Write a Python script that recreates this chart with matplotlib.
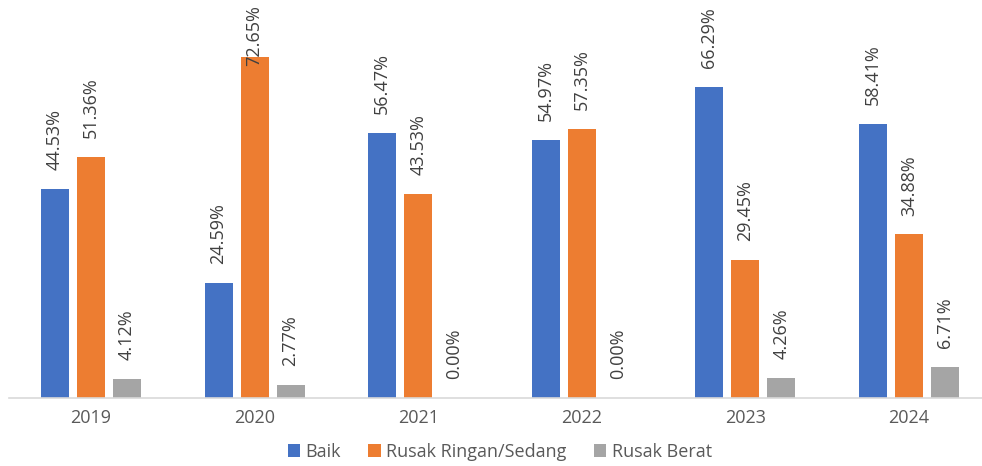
import matplotlib.pyplot as plt
import numpy as np

plt.rcParams['font.family'] = ['Open Sans', 'DejaVu Sans']

years = ["2019", "2020", "2021", "2022", "2023", "2024"]
baik = [44.53, 24.59, 56.47, 54.97, 66.29, 58.41]
ringan_sedang = [51.36, 72.65, 43.53, 57.35, 29.45, 34.88]
berat = [4.12, 2.77, 0.00, 0.00, 4.26, 6.71]

series = [
    ("Baik", baik, "#4472C4"),
    ("Rusak Ringan/Sedang", ringan_sedang, "#ED7D31"),
    ("Rusak Berat", berat, "#A5A5A5"),
]

fig = plt.figure(figsize=(9.82, 4.66), dpi=100)
ax = fig.add_axes([9.2 / 982, 68 / 466, 981.6 / 982, 375.5 / 466])

x = np.arange(len(years))
width = 0.171
step = 0.22

labels = []
for i, (name, vals, color) in enumerate(series):
    pos = x + (i - 1) * step
    ax.bar(pos, vals, width, color=color, label=name, zorder=2)
    for px, v in zip(pos, vals):
        t = ax.annotate(f"{v:.2f}%", (px, v), xytext=(0, 13.5), textcoords="offset points",
                        rotation=90, ha="center", va="bottom", fontsize=13,
                        color="#404040", zorder=3)
        labels.append(t)

ax.set_xlim(-0.5, len(years) - 0.5)
ax.set_ylim(0, 80)
ax.set_xticks(x)
ax.set_xticklabels(years, fontsize=13, color="#595959")
ax.set_yticks([])
ax.tick_params(axis="x", length=0, pad=8)
for s in ["top", "right", "left"]:
    ax.spines[s].set_visible(False)
ax.spines["bottom"].set_color("#D9D9D9")
ax.spines["bottom"].set_linewidth(1.2)

fig.legend(loc="center", bbox_to_anchor=(0.509, 0.03), ncol=3, frameon=False,
           fontsize=13, handlelength=0.7, handleheight=0.7, handletextpad=0.3,
           columnspacing=1.5, labelcolor="#595959")

# keep labels inside the figure (like Excel does), pushing them down onto the bar
fig.canvas.draw()
renderer = fig.canvas.get_renderer()
top_limit = fig.bbox.height - 5
for t in labels:
    bb = t.get_window_extent(renderer)
    if bb.y1 > top_limit:
        dx, dy = t.xyann
        t.xyann = (dx, dy - (bb.y1 - top_limit) * 72 / fig.dpi)

fig.savefig("out.png", dpi=100)
